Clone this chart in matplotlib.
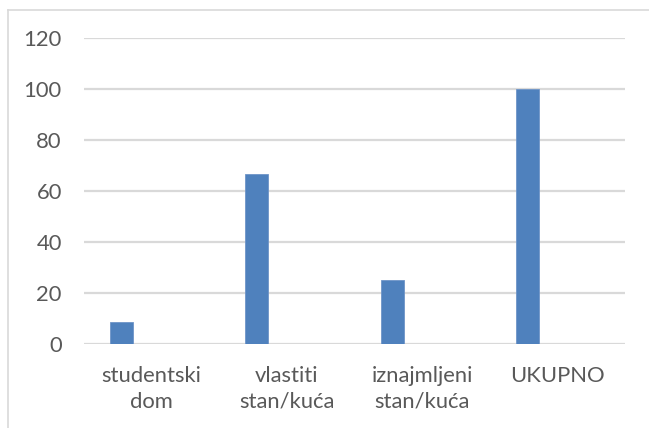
import matplotlib.pyplot as plt
from matplotlib.lines import Line2D
import numpy as np

categories = ["studentski\ndom", "vlastiti\nstan/kuća", "iznajmljeni\nstan/kuća", "UKUPNO"]
values = [8.6, 66.5, 24.9, 100]
yticks = [0, 20, 40, 60, 80, 100, 120]

BAR_COLOR = "#4f81bd"
GRID_COLOR = "#d9d9d9"
TEXT_COLOR = "#595959"

plt.rcParams["font.family"] = ["Lato", "DejaVu Sans"]

fig = plt.figure(figsize=(6.49, 4.28), dpi=100)
ax = fig.add_axes([0.1294, 0.1963, 0.8336, 0.715])

x = np.arange(len(categories))
ax.bar(x - 0.222, values, width=0.17, color=BAR_COLOR, edgecolor="#6f95c8",
       linewidth=0.6, zorder=3)

ax.set_xlim(-0.5, len(categories) - 0.5)
ax.set_ylim(0, 120)
ax.set_yticks(yticks)
ax.set_xticks(x)
ax.set_xticklabels(categories, linespacing=1.35)
ax.yaxis.grid(True, color=GRID_COLOR, linewidth=1.6, zorder=0)
ax.set_axisbelow(True)
for s in ax.spines.values():
    s.set_visible(False)
ax.tick_params(axis="y", length=0, pad=16, labelsize=15.8, labelcolor=TEXT_COLOR)
ax.tick_params(axis="x", length=0, pad=16, labelsize=15.8, labelcolor=TEXT_COLOR)

# outer chart border (only top and left visible in the crop)
fig.add_artist(Line2D([8 / 649, 8 / 649], [0, 1 - 10 / 428], color=GRID_COLOR,
                      linewidth=1.2, transform=fig.transFigure))
fig.add_artist(Line2D([8 / 649, 1], [1 - 10 / 428, 1 - 10 / 428], color=GRID_COLOR,
                      linewidth=1.2, transform=fig.transFigure))

fig.savefig("out.png", dpi=100)
